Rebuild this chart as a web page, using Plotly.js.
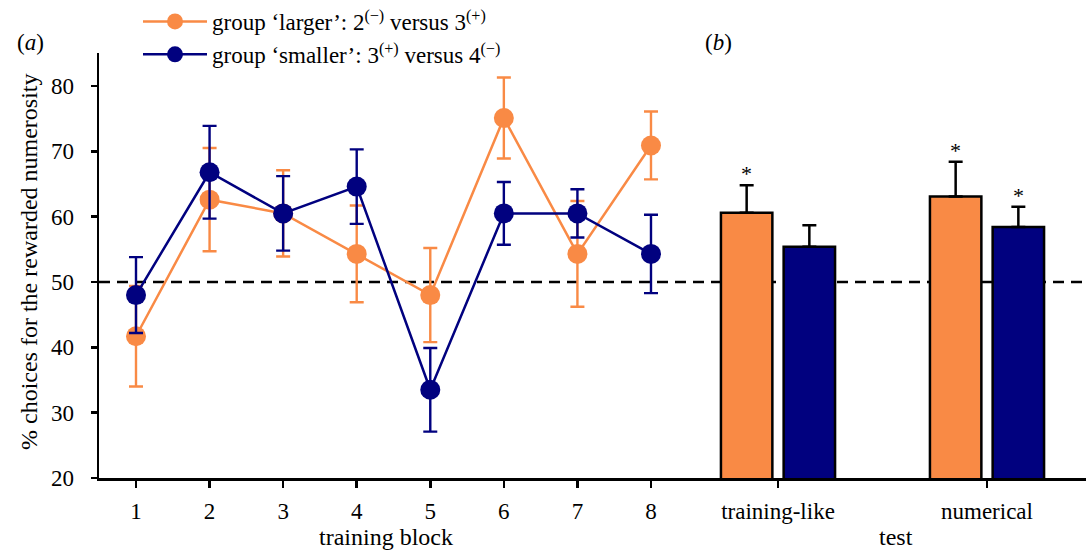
<!DOCTYPE html>
<html>
<head>
<meta charset="utf-8">
<script src="https://cdn.plot.ly/plotly-3.0.1.min.js"></script>
<style>html,body{margin:0;padding:0;background:#fff}#chart{width:1086px;height:551px}</style>
</head>
<body>
<div id="chart"></div>
<script>
// ---- data ----
var blocks = [1, 2, 3, 4, 5, 6, 7, 8];
var largerMean = [41.7, 62.6, 60.5, 54.3, 48.0, 75.1, 54.3, 70.9];
var largerErr  = [7.7, 7.9, 6.6, 7.4, 7.2, 6.2, 8.1, 5.2];
var smallerMean = [48.0, 66.8, 60.5, 64.6, 33.5, 60.5, 60.5, 54.3];
var smallerErr  = [5.8, 7.1, 5.7, 5.7, 6.4, 4.8, 3.7, 6.0];

var testCats = ['training-like', 'numerical'];
var largerTest = [60.6, 63.1];
var largerTestErr = [4.2, 5.3];
var smallerTest = [55.4, 58.4];
var smallerTestErr = [3.3, 3.1];
var largerSig = [true, true];
var smallerSig = [false, true];

var chanceLevel = 50;
var yTicks = [20, 30, 40, 50, 60, 70, 80];

var nameLarger = 'group \u2018larger\u2019: 2<sup>(\u2212)</sup> versus 3<sup>(+)</sup>';
var nameSmaller = 'group \u2018smaller\u2019: 3<sup>(+)</sup> versus 4<sup>(\u2212)</sup>';

// ---- style ----
var ORANGE = '#F98A45';
var BLUE = '#01017F';
var FONT = 'Liberation Serif, Times New Roman, serif';
var W = 1086, H = 551, ML = 99, MR = 0, MT = 53, MB = 73;
var PW = W - ML - MR, PH = H - MT - MB;
var splitPx = 690;
var splitFrac = (splitPx - ML) / PW;
function px2paperX(px) { return (px - ML) / PW; }
function px2paperY(py) { return (H - MB - py) / PH; }

var traces = [
  {
    x: blocks, y: largerMean, type: 'scatter', mode: 'lines+markers',
    name: nameLarger, legendgroup: 'a',
    line: {color: ORANGE, width: 2.5},
    marker: {color: ORANGE, size: 20},
    error_y: {type: 'data', array: largerErr, visible: true, color: ORANGE, thickness: 2.4, width: 7},
    xaxis: 'x', yaxis: 'y'
  },
  {
    x: blocks, y: smallerMean, type: 'scatter', mode: 'lines+markers',
    name: nameSmaller, legendgroup: 'b',
    line: {color: BLUE, width: 2.5},
    marker: {color: BLUE, size: 20},
    error_y: {type: 'data', array: smallerErr, visible: true, color: BLUE, thickness: 2.4, width: 7},
    xaxis: 'x', yaxis: 'y'
  },
  {
    x: testCats, y: largerTest, type: 'bar', name: nameLarger, showlegend: false,
    marker: {color: ORANGE, line: {color: '#000', width: 2.5}},
    error_y: {type: 'data', array: largerTestErr, arrayminus: largerTest.map(function(){return 0;}), visible: true, color: '#000', thickness: 2.5, width: 7},
    xaxis: 'x2', yaxis: 'y'
  },
  {
    x: testCats, y: smallerTest, type: 'bar', name: nameSmaller, showlegend: false,
    marker: {color: BLUE, line: {color: '#000', width: 2.5}},
    error_y: {type: 'data', array: smallerTestErr, arrayminus: smallerTest.map(function(){return 0;}), visible: true, color: '#000', thickness: 2.5, width: 7},
    xaxis: 'x2', yaxis: 'y'
  }
];

var bargap = 0.4, bargroupgap = 0.18;
var slot = (1 - bargap) / 2;
var annotations = [];
var starFont = {family: FONT, size: 22, color: '#000'};
testCats.forEach(function(c, i) {
  if (largerSig[i]) annotations.push({xref: 'x2', yref: 'y', x: i - slot / 2, y: largerTest[i] + largerTestErr[i], text: '*', showarrow: false, yanchor: 'bottom', yshift: -3, font: starFont});
  if (smallerSig[i]) annotations.push({xref: 'x2', yref: 'y', x: i + slot / 2, y: smallerTest[i] + smallerTestErr[i], text: '*', showarrow: false, yanchor: 'bottom', yshift: -3, font: starFont});
});
var lblFont = {family: FONT, size: 23, color: '#000'};
var ttlFont = {family: FONT, size: 24, color: '#000'};
annotations.push({xref: 'paper', yref: 'paper', x: px2paperX(30), y: px2paperY(42), text: '(<i>a</i>)', showarrow: false, xanchor: 'center', yanchor: 'middle', font: lblFont});
annotations.push({xref: 'paper', yref: 'paper', x: px2paperX(718), y: px2paperY(42), text: '(<i>b</i>)', showarrow: false, xanchor: 'center', yanchor: 'middle', font: lblFont});
annotations.push({xref: 'paper', yref: 'paper', x: px2paperX(386), y: px2paperY(537), text: 'training block', showarrow: false, xanchor: 'center', yanchor: 'middle', font: ttlFont});
annotations.push({xref: 'paper', yref: 'paper', x: px2paperX(896), y: px2paperY(537), text: 'test', showarrow: false, xanchor: 'center', yanchor: 'middle', font: ttlFont});
annotations.push({xref: 'paper', yref: 'paper', x: px2paperX(29), y: px2paperY(262), text: '% choices for the rewarded numerosity', textangle: -90, showarrow: false, xanchor: 'center', yanchor: 'middle', font: ttlFont});

var axisCommon = {
  showline: true, linecolor: '#000', linewidth: 2.5,
  ticks: 'outside', ticklen: 7, tickwidth: 2.5, tickcolor: '#000',
  showgrid: false, zeroline: false, automargin: false,
  tickfont: {family: FONT, size: 23, color: '#000'}
};

var layout = {
  width: W, height: H,
  margin: {l: ML, r: MR, t: MT, b: MB, pad: 0, autoexpand: false},
  paper_bgcolor: '#fff', plot_bgcolor: '#fff',
  font: {family: FONT, color: '#000'},
  showlegend: true,
  legend: {
    xref: 'container', yref: 'container', x: 138 / W, y: 1, xanchor: 'left', yanchor: 'top',
    font: {family: FONT, size: 23, color: '#000'},
    itemwidth: 64, tracegroupgap: 8, bgcolor: 'rgba(0,0,0,0)', borderwidth: 0,
    traceorder: 'normal', itemsizing: 'trace'
  },
  barmode: 'group', bargap: bargap, bargroupgap: bargroupgap,
  xaxis: Object.assign({}, axisCommon, {
    domain: [0, splitFrac], anchor: 'y',
    range: [1 - (136 - ML) / 73.57, 1 + (splitPx - 136) / 73.57],
    tickvals: blocks, ticklabelstandoff: 4
  }),
  xaxis2: Object.assign({}, axisCommon, {
    domain: [splitFrac, 1], anchor: 'y', type: 'category',
    range: [-(778 - splitPx) / 209, 1 + (W - 987) / 209],
    ticklabelstandoff: 4
  }),
  yaxis: Object.assign({}, axisCommon, {
    domain: [0, 1], anchor: 'x', range: [20, 85.05],
    tickvals: yTicks, ticklen: 6, ticklabelstandoff: 12
  }),
  shapes: [{
    type: 'line', xref: 'paper', yref: 'y', x0: 0, x1: 1, y0: chanceLevel, y1: chanceLevel,
    line: {color: '#000', width: 2.5, dash: '11px,7px'}, layer: 'below'
  }],
  annotations: annotations
};

Plotly.newPlot('chart', traces, layout, {displayModeBar: false, staticPlot: true});
</script>
</body>
</html>
